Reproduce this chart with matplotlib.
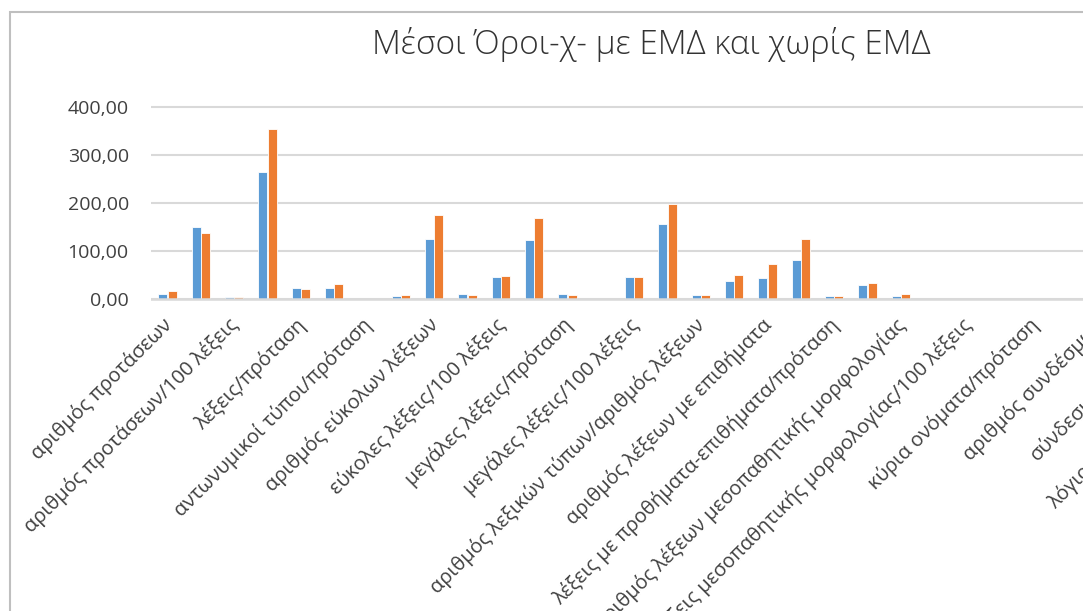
import numpy as np
import matplotlib.pyplot as plt
from matplotlib.patches import Rectangle
from matplotlib.transforms import ScaledTranslation

plt.rcParams['font.family'] = ['Open Sans', 'DejaVu Sans']

titlos = "Μέσοι Όροι-χ- με ΕΜΔ και χωρίς ΕΜΔ"

# μόνο κάθε δεύτερη κατηγορία έχει ετικέτα στον άξονα
etiketes = [
    "αριθμός προτάσεων",
    "αριθμός προτάσεων/100 λέξεις",
    "λέξεις/πρόταση",
    "αντωνυμικοί τύποι/πρόταση",
    "αριθμός εύκολων λέξεων",
    "εύκολες λέξεις/100 λέξεις",
    "μεγάλες λέξεις/πρόταση",
    "μεγάλες λέξεις/100 λέξεις",
    "αριθμός λεξικών τύπων/αριθμός λέξεων",
    "αριθμός λέξεων με επιθήματα",
    "λέξεις με προθήματα-επιθήματα/πρόταση",
    "αριθμός λέξεων μεσοπαθητικής μορφολογίας",
    "λέξεις μεσοπαθητικής μορφολογίας/100 λέξεις",
    "κύρια ονόματα/πρόταση",
    "αριθμός συνδέσμων",
    "σύνδεσμοι/πρόταση",
    "λόγιοι επιρρηματικοί τύποι",
]

me_emd = [11, 150, 4.9, 266, 23.6, 23.6, 1, 7.6, 125.7, 11, 45.8, 123.6, 11, 0,
          45.8, 156, 8.3, 38, 43.75, 82, 6.25, 29.9, 6.9, 0, 1.5, 0, 0, 0]
xoris_emd = [16.5, 137.5, 4.5, 354, 20.8, 31, 1, 8.3, 175.6, 9.7, 49.3, 168.7, 9, 0,
             46.5, 198, 9.7, 50.7, 74.3, 125, 7, 34, 11, 0, 1.5, 0, 0, 0]

yticks = [0, 100, 200, 300, 400]

W, H = 1083, 611
fig = plt.figure(figsize=(W / 100, H / 100), dpi=100)

# το διάγραμμα συνεχίζει πέρα από τη δεξιά άκρη
ncat = 2 * len(etiketes)
cat_px = 33.33
px_unit = 0.48
ymin, ymax = -3, 405
left = 151
bottom = 299.3 - ymin * px_unit
ax = fig.add_axes([left / W, (H - bottom) / H, ncat * cat_px / W,
                   (ymax - ymin) * px_unit / H])

x = np.arange(len(me_emd))
w = 0.27
ax.bar(x - 0.14, me_emd, w, color='#5B9BD5', edgecolor='white', linewidth=0.6, zorder=2)
ax.bar(x + 0.14, xoris_emd, w, color='#ED7D31', edgecolor='white', linewidth=0.6, zorder=2)

ax.set_xlim(-0.5, ncat - 0.5)
ax.set_ylim(ymin, ymax)
ax.set_yticks(yticks)
ax.set_yticklabels([f"{v:.2f}".replace('.', ',') for v in yticks])
ax.yaxis.grid(True, color='#D9D9D9', linewidth=1.5)
ax.axhline(0, color='#D9D9D9', linewidth=1.8, zorder=3)
ax.set_axisbelow(True)

ax.set_xticks(np.arange(0, ncat, 2))
ax.set_xticklabels(etiketes, rotation=45, ha='right', va='top', rotation_mode='anchor')
ax.tick_params(axis='x', length=0, pad=10, labelsize=14.5, labelcolor='#404040')
ax.tick_params(axis='y', length=0, pad=16, labelsize=14, labelcolor='#404040')
shift = ScaledTranslation(-6 / 100, 0, fig.dpi_scale_trans)
for lbl in ax.get_xticklabels():
    lbl.set_transform(lbl.get_transform() + shift)
for s in ax.spines.values():
    s.set_visible(False)

fig.text(651 / W, 1 - 45 / H, titlos, ha='center', va='center', fontsize=24,
         color='#333333', fontweight='light')

# πλαίσιο του διαγράμματος
fig.patches.append(Rectangle((10 / W, -0.1), 1.2, 1 - 12 / H + 0.1, transform=fig.transFigure,
                             fill=False, edgecolor='#BFBFBF', linewidth=1.5))

fig.savefig('out.png', dpi=100)
